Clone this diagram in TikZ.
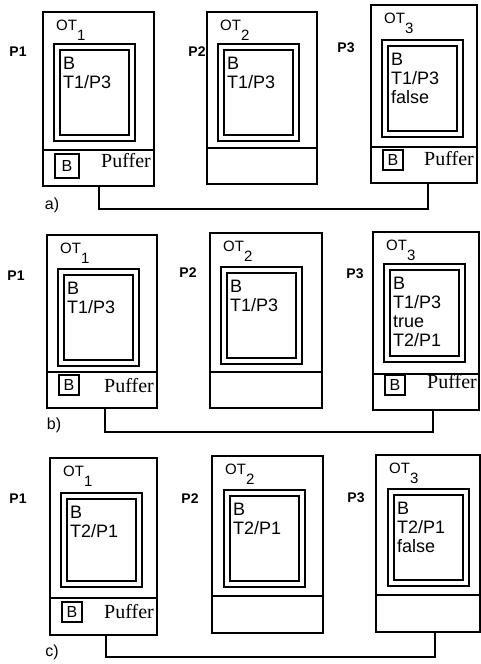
\documentclass[tikz,border=0pt]{standalone}
\usepackage{fontspec}
\setmainfont{Liberation Sans}
\newfontfamily\pufferfont{Liberation Serif}
\usetikzlibrary{positioning}
\newcommand{\OTidx}[1]{OT\raisebox{-10pt}{#1}}

\begin{document}
\begin{tikzpicture}[
    x=1pt, y=-1pt,
    proc/.style={draw, line width=1.9pt, outer sep=0pt, inner sep=0pt, anchor=north west},
    objbox/.style={draw, line width=2.2pt, double, double distance=3.6pt, outer sep=0pt, inner sep=0pt, minimum width=75pt, minimum height=91pt, anchor=north west},
    buf/.style={draw, line width=1.6pt, outer sep=0pt, inner sep=0pt, minimum size=20pt, anchor=west, font=\fontsize{16}{16}\selectfont},
    content/.style={anchor=north west, inner sep=0pt, align=left, font=\fontsize{18}{19}\selectfont},
    otname/.style={anchor=north west, inner sep=0pt, font=\fontsize{15}{15}\selectfont},
    pname/.style={inner sep=0pt, font=\bfseries\fontsize{14}{14}\selectfont},
    puffer/.style={anchor=base east, inner sep=0pt, font=\pufferfont\fontsize{20}{20}\selectfont},
    step label/.style={inner sep=0pt, font=\fontsize{16}{16}\selectfont},
    link/.style={line width=1.9pt}
  ]
  \useasboundingbox (0,0) rectangle (480,664);

  % Row a
  \node[proc, minimum width=111pt, minimum height=174pt] (pa1) at (43,12) {};
  \node[proc, minimum width=110pt, minimum height=172pt] (pa2) at (207,12) {};
  \node[proc, minimum width=106pt, minimum height=178pt] (pa3) at (371,5) {};
  \foreach \p in {pa1,pa2,pa3}
    \draw[link] ([yshift=36pt]\p.south west) -- ([yshift=36pt]\p.south east);
  \node[objbox] (fa1) at ([xshift=14pt,yshift=-35pt]pa1.north west) {};
  \node[objbox] (fa2) at ([xshift=14pt,yshift=-35pt]pa2.north west) {};
  \node[objbox] (fa3) at ([xshift=14pt,yshift=-38pt]pa3.north west) {};
  \node[content] at ([xshift=6pt,yshift=-10pt]fa1.north west) {B\\T1/P3};
  \node[content] at ([xshift=6pt,yshift=-10pt]fa2.north west) {B\\T1/P3};
  \node[content] at ([xshift=6pt,yshift=-10pt]fa3.north west) {B\\T1/P3\\false};
  \node[otname] at ([xshift=13pt,yshift=-8pt]pa1.north west) {\OTidx{1}};
  \node[otname] at ([xshift=13pt,yshift=-8pt]pa2.north west) {\OTidx{2}};
  \node[otname] at ([xshift=13pt,yshift=-8pt]pa3.north west) {\OTidx{3}};
  \node[pname] at (18,52) {P1};
  \node[pname] at (197,52) {P2};
  \node[pname] at (346,48) {P3};
  \node[buf, minimum size=24pt] (ba1) at ([xshift=12pt,yshift=20pt]pa1.south west) {B};
  \node[puffer] at ([xshift=-3pt,yshift=19pt]pa1.south east) {Puffer};
  \node[buf] (ba3) at ([xshift=12pt,yshift=23pt]pa3.south west) {B};
  \node[puffer] at ([xshift=-3pt,yshift=18pt]pa3.south east) {Puffer};
  \draw[link] ([xshift=56pt]pa1.south west) -- ++(0,23) -| ([xshift=57pt]pa3.south west);
  \node[step label] at (52,205) {a)};

  % Row b
  \node[proc, minimum width=110pt, minimum height=173pt] (pb1) at (47,235) {};
  \node[proc, minimum width=112pt, minimum height=175pt] (pb2) at (210,233) {};
  \node[proc, minimum width=106pt, minimum height=178pt] (pb3) at (373,232) {};
  \foreach \p in {pb1,pb2,pb3}
    \draw[link] ([yshift=36pt]\p.south west) -- ([yshift=36pt]\p.south east);
  \node[objbox] (fb1) at ([xshift=14pt,yshift=-37pt]pb1.north west) {};
  \node[objbox] (fb2) at ([xshift=14pt,yshift=-37pt]pb2.north west) {};
  \node[objbox, minimum height=92pt] (fb3) at ([xshift=14pt,yshift=-35pt]pb3.north west) {};
  \node[content] at ([xshift=6pt,yshift=-10pt]fb1.north west) {B\\T1/P3};
  \node[content] at ([xshift=6pt,yshift=-10pt]fb2.north west) {B\\T1/P3};
  \node[content] at ([xshift=6pt,yshift=-10pt]fb3.north west) {B\\T1/P3\\true\\T2/P1};
  \node[otname] at ([xshift=13pt,yshift=-8pt]pb1.north west) {\OTidx{1}};
  \node[otname] at ([xshift=13pt,yshift=-8pt]pb2.north west) {\OTidx{2}};
  \node[otname] at ([xshift=13pt,yshift=-8pt]pb3.north west) {\OTidx{3}};
  \node[pname] at (16,276) {P1};
  \node[pname] at (188,273) {P2};
  \node[pname] at (355,274) {P3};
  \node[buf] (bb1) at ([xshift=12pt,yshift=23pt]pb1.south west) {B};
  \node[puffer] at ([xshift=-3pt,yshift=16pt]pb1.south east) {Puffer};
  \node[buf] (bb3) at ([xshift=12pt,yshift=25pt]pb3.south west) {B};
  \node[puffer] at ([xshift=-2pt,yshift=22pt]pb3.south east) {Puffer};
  \draw[link] ([xshift=58pt]pb1.south west) -- ++(0,24) -| ([xshift=60pt]pb3.south west);
  \node[step label] at (54,425) {b)};

  % Row c
  \node[proc, minimum width=107pt, minimum height=177pt] (pc1) at (50,458) {};
  \node[proc, minimum width=111pt, minimum height=177pt] (pc2) at (212,456) {};
  \node[proc, minimum width=104pt, minimum height=177pt] (pc3) at (376,455) {};
  \foreach \p in {pc1,pc2,pc3}
    \draw[link] ([yshift=37pt]\p.south west) -- ([yshift=37pt]\p.south east);
  \node[objbox, minimum height=88pt] (fc1) at ([xshift=14pt,yshift=-38pt]pc1.north west) {};
  \node[objbox] (fc2) at ([xshift=15pt,yshift=-37pt]pc2.north west) {};
  \node[objbox] (fc3) at ([xshift=15pt,yshift=-37pt]pc3.north west) {};
  \node[content] at ([xshift=6pt,yshift=-10pt]fc1.north west) {B\\T2/P1};
  \node[content] at ([xshift=6pt,yshift=-10pt]fc2.north west) {B\\T2/P1};
  \node[content] at ([xshift=6pt,yshift=-10pt]fc3.north west) {B\\T2/P1\\false};
  \node[otname] at ([xshift=13pt,yshift=-8pt]pc1.north west) {\OTidx{1}};
  \node[otname] at ([xshift=13pt,yshift=-8pt]pc2.north west) {\OTidx{2}};
  \node[otname] at ([xshift=13pt,yshift=-8pt]pc3.north west) {\OTidx{3}};
  \node[pname] at (18,499) {P1};
  \node[pname] at (190,499) {P2};
  \node[pname] at (356,498) {P3};
  \node[buf] (bc1) at ([xshift=12pt,yshift=23pt]pc1.south west) {B};
  \node[puffer] at ([xshift=-3pt,yshift=17pt]pc1.south east) {Puffer};
  \draw[link] ([xshift=56pt]pc1.south west) -- ++(0,22) -| ([xshift=59pt]pc3.south west);
  \node[step label] at (52,652) {c)};
\end{tikzpicture}
\end{document}
